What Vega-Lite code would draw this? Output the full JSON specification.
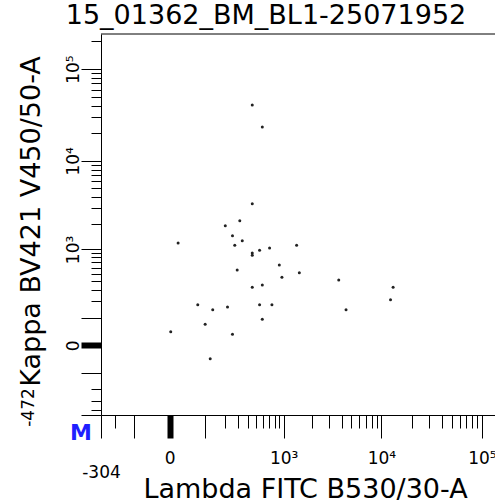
{
  "$schema": "https://vega.github.io/schema/vega-lite/v6.json",
  "autosize": {"type": "none"},
  "padding": {"left": 101, "top": 34, "right": 0, "bottom": 89},
  "width": 394,
  "height": 381,
  "background": "white",
  "title": {"text": "15_01362_BM_BL1-25071952", "fontSize": 27, "font": "DejaVu Sans", "fontWeight": "normal", "color": "black", "baseline": "alphabetic", "offset": 6, "dx": -32, "dy": 23},
  "config": {
    "view": {"stroke": null},
    "font": "DejaVu Sans",
    "axis": {"domainColor": "black", "tickColor": "black", "labelColor": "black", "titleColor": "black", "grid": false, "titleFontWeight": "normal", "titleFont": "DejaVu Sans", "labelFont": "DejaVu Sans", "labelFontSize": 17, "titleFontSize": 27, "labelOverlap": false, "labelFlush": false, "labelBound": false, "domainWidth": 1, "tickCount": 500}
  },
  "layer": [
    {
      "data": {"values": [
        {"x": 448, "y": 40720}, {"x": 584, "y": 23440}, {"x": 448, "y": 3356}, {"x": 317, "y": 2158},
        {"x": 205, "y": 1893}, {"x": 256, "y": 1452}, {"x": 340, "y": 1269}, {"x": 17, "y": 1193},
        {"x": 274, "y": 1120}, {"x": 1374, "y": 1120}, {"x": 704, "y": 1041}, {"x": 544, "y": 977},
        {"x": 448, "y": 907}, {"x": 448, "y": 850}, {"x": 899, "y": 645}, {"x": 294, "y": 558},
        {"x": 1467, "y": 515}, {"x": 959, "y": 448}, {"x": 3724, "y": 412}, {"x": 584, "y": 352},
        {"x": 448, "y": 327}, {"x": 13100, "y": 327}, {"x": 12340, "y": 213}, {"x": 72, "y": 176},
        {"x": 544, "y": 176}, {"x": 747, "y": 176}, {"x": 220, "y": 161}, {"x": 134, "y": 144},
        {"x": 4416, "y": 144}, {"x": 100, "y": 69}, {"x": 584, "y": 92}, {"x": 2, "y": 40},
        {"x": 256, "y": 32}, {"x": 122, "y": -40}
      ]},
      "mark": {"type": "point", "filled": true, "size": 9, "color": "#222222", "opacity": 1},
      "encoding": {
        "x": {
          "field": "x", "type": "quantitative",
          "scale": {"type": "symlog", "constant": 80, "domain": [-304, 135000], "nice": false, "zero": false},
          "axis": {
            "title": "Lambda FITC B530/30-A",
            "titleX": 204, "titleY": 82, "titleAlign": "center", "titleBaseline": "alphabetic",
            "tickCount": 500,
            "values": [-304, -200, -100, 0, 100, 200, 300, 400, 500, 600, 700, 800, 900, 1000, 2000, 3000, 4000, 5000, 6000, 7000, 8000, 9000, 10000, 20000, 30000, 40000, 50000, 60000, 70000, 80000, 90000, 100000],
            "labelExpr": "datum.value == 0 ? '0' : datum.value == 1000 ? '10³' : datum.value == 10000 ? '10⁴' : datum.value == 100000 ? '10⁵' : datum.value == -304 ? '-304' : ''",
            "labelBaseline": "alphabetic",
            "labelAlign": "center",
            "tickSize": {"condition": {"test": "indexof([-304, -100, 0, 100, 1000, 10000, 100000], datum.value) >= 0", "value": 23}, "value": 13},
            "tickWidth": {"condition": {"test": "datum.value == 0", "value": 6}, "value": 1},
            "labelPadding": {"condition": {"test": "datum.value == -304", "value": 39}, "value": 25}
          }
        },
        "y": {
          "field": "y", "type": "quantitative",
          "scale": {"type": "symlog", "constant": 100, "domain": [-472, 241000], "nice": false, "zero": false},
          "axis": {
            "title": "Kappa BV421 V450/50-A",
            "titleX": -62, "titleY": 187, "titleAngle": 270, "titleAlign": "center", "titleBaseline": "alphabetic",
            "tickCount": 500,
            "values": [-472, -400, -300, -200, -100, 0, 100, 200, 300, 400, 500, 600, 700, 800, 900, 1000, 2000, 3000, 4000, 5000, 6000, 7000, 8000, 9000, 10000, 20000, 30000, 40000, 50000, 60000, 70000, 80000, 90000, 100000, 200000],
            "labelExpr": "datum.value == 0 ? '0' : datum.value == 1000 ? '10³' : datum.value == 10000 ? '10⁴' : datum.value == 100000 ? '10⁵' : datum.value == -472 ? '-472' : ''",
            "labelAngle": 270,
            "labelAlign": "center",
            "labelBaseline": "alphabetic",
            "tickSize": {"condition": {"test": "indexof([-472, -100, 0, 100, 1000, 10000, 100000], datum.value) >= 0", "value": 20}, "value": 10},
            "tickWidth": {"condition": {"test": "datum.value == 0", "value": 6}, "value": 1},
            "labelPadding": {"condition": {"test": "datum.value == -472", "value": 48}, "value": 3},
            "labelOffset": {"condition": {"test": "datum.value == -472", "value": -8}, "value": 0}
          }
        }
      }
    },
    {
      "data": {"values": [{"top": 241000}]},
      "mark": {"type": "rule", "color": "black", "strokeWidth": 1},
      "encoding": {"y": {"field": "top", "type": "quantitative"}}
    },
    {
      "data": {"values": [{"mx": -304, "my": -472, "label": "M"}]},
      "mark": {"type": "text", "color": "#1f1fff", "fontWeight": "bold", "fontSize": 22, "font": "DejaVu Sans", "align": "center", "baseline": "middle", "dx": -20, "dy": 18},
      "encoding": {"x": {"field": "mx", "type": "quantitative"}, "y": {"field": "my", "type": "quantitative"}, "text": {"field": "label"}}
    }
  ]
}
